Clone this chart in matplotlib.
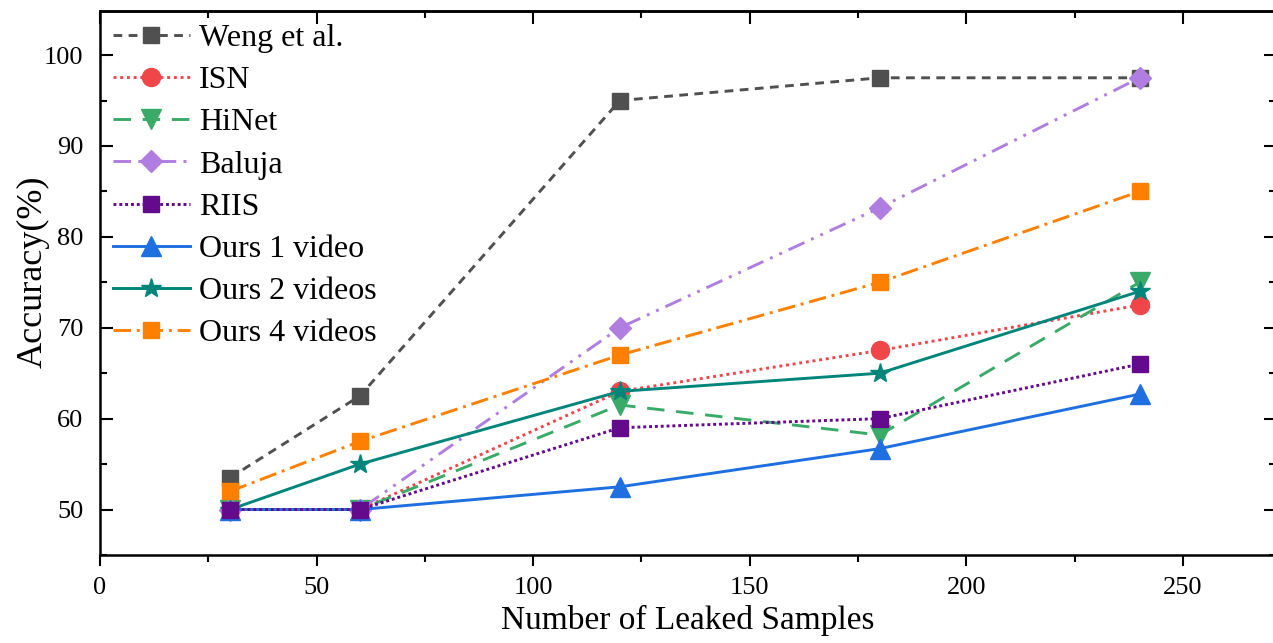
#!/usr/bin/env python3

import numpy as np
import matplotlib.pyplot as plt
from matplotlib.ticker import MultipleLocator

plt.rcParams['font.family'] = ['Liberation Serif', 'DejaVu Serif']

samples = [30, 60, 120, 180, 240]
weng = [53.5, 62.5, 95, 97.5, 97.5]
isn = [50, 50, 63, 67.5, 72.5]
hinet = [50, 50, 61.5, 58.2, 75]
baluja = [50, 50, 70, 83.2, 97.5]
riis = [50, 50, 59, 60, 66]
ours1 = [50, 50, 52.5, 56.7, 62.7]
ours2 = [50, 55, 63, 65, 74]
ours4 = [52, 57.5, 67, 75, 85]

names = ['Weng et al.', 'ISN', 'HiNet', 'Baluja', 'RIIS',
         'Ours 1 video', 'Ours 2 videos', 'Ours 4 videos']

fig = plt.figure(figsize=(12.73, 6.43), dpi=100)
ax = fig.add_axes([0.0786, 0.1369, 1.0024 - 0.0786, 0.9829 - 0.1369])

# estilo de cada serie: (dados, cor, marcador, linha, tamanho, ordem)
estilos = [
    (weng, '#505050', 's', (0, (3, 2.2)), 11, 2),
    (isn, '#f0464a', 'o', (0, (1, 1.3)), 13, 2),
    (hinet, '#3aaa68', 'v', (0, (6, 4)), 14, 2),
    (baluja, '#b07ee0', 'D', (0, (6, 2.5, 1, 2.5, 1, 2.5)), 11.5, 2),
    (riis, '#640a8c', 's', (0, (1, 1)), 11.5, 4),
    (ours1, '#1f6fe0', '^', '-', 14, 2),
    (ours2, '#00857a', '*', '-', 15, 3),
    (ours4, '#ff8000', 's', (0, (6, 2, 1, 2)), 11, 2),
]

for (vals, cor, mk, ls, ms, z), nome in zip(estilos, names):
    ax.plot(samples, vals, color=cor, marker=mk, linestyle=ls, linewidth=2.1,
            markersize=ms, label=nome, zorder=z)

ax.set_xlim(0, 271.5)
ax.set_ylim(45, 104.85)
ax.xaxis.set_major_locator(MultipleLocator(50))
ax.xaxis.set_minor_locator(MultipleLocator(25))
ax.yaxis.set_major_locator(MultipleLocator(10))
ax.yaxis.set_minor_locator(MultipleLocator(5))
ax.set_yticks(np.arange(50, 101, 10))

ax.tick_params(axis='x', which='major', direction='out', length=8, width=1.5,
               labelsize=19, pad=8)
ax.tick_params(axis='x', which='minor', direction='out', length=5, width=1.5)
ax.tick_params(axis='y', which='major', direction='in', length=9, width=1.5,
               labelsize=19, pad=12, right=True)
ax.tick_params(axis='y', which='minor', direction='in', length=5, width=1.5,
               right=True)

top = ax.secondary_xaxis('top')
top.xaxis.set_major_locator(MultipleLocator(50))
top.xaxis.set_minor_locator(MultipleLocator(25))
top.tick_params(which='major', direction='in', length=9, width=1.5, labeltop=False)
top.tick_params(which='minor', direction='in', length=5, width=1.5)

for s in ax.spines.values():
    s.set_linewidth(1.8)
top.spines['top'].set_linewidth(1.8)

ax.set_xlabel('Number of Leaked Samples', fontsize=24, labelpad=4)
ax.set_ylabel('Accuracy(%)', fontsize=26)
ax.yaxis.set_label_coords(-0.043, 0.52)

ax.legend(loc='upper left', frameon=False, fontsize=23, handlelength=2.4,
          labelspacing=0.4, borderaxespad=0.0, handletextpad=0.3,
          bbox_to_anchor=(0.0, 1.0))

plt.savefig('out.png', dpi=100)
